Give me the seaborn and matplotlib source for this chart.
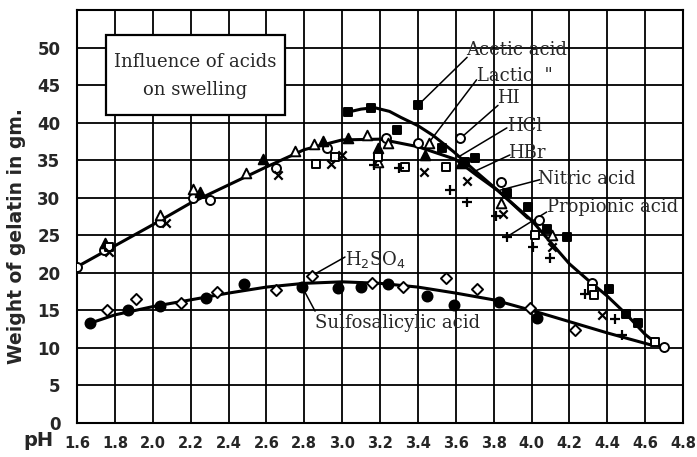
import numpy as np
import pandas as pd
import matplotlib
matplotlib.use("Agg")
import matplotlib.pyplot as plt
import matplotlib.patches as mpatches
import seaborn as sns

# ===== data (pH, weight of gelatin in gm) =====
hi_ph = [1.60, 1.74, 2.04, 2.21, 2.30, 2.65, 2.92, 3.23, 3.40, 3.62, 3.84, 4.04, 4.32, 4.70]
hi_w = [20.8, 23.0, 26.8, 30.0, 29.7, 34.0, 36.6, 37.9, 37.3, 37.9, 32.1, 27.0, 18.6, 10.1]

lactic_ph = [2.04, 2.21, 2.49, 2.75, 2.85, 3.13, 3.19, 3.24, 3.46, 3.84, 4.11]
lactic_w = [27.7, 31.2, 33.3, 36.2, 37.1, 38.3, 34.8, 37.3, 37.3, 29.3, 25.0]

hcl_ph = [1.75, 2.25, 2.58, 2.90, 3.03, 3.19, 3.44, 3.63]
hcl_w = [24.0, 30.8, 35.1, 37.5, 37.9, 36.6, 35.7, 34.6]

hbr_ph = [1.77, 2.86, 2.96, 3.19, 3.33, 3.55, 4.02, 4.32, 4.33, 4.65]
hbr_w = [23.4, 34.5, 35.4, 35.4, 34.1, 34.1, 25.0, 17.8, 17.0, 10.8]

nitric_ph = [1.77, 2.07, 2.66, 2.94, 3.00, 3.43, 3.66, 3.85, 4.11, 4.37]
nitric_w = [22.8, 26.6, 33.0, 34.5, 35.7, 33.4, 32.2, 27.8, 23.4, 14.4]

propionic_ph = [3.17, 3.30, 3.57, 3.66, 3.81, 3.87, 4.01, 4.10, 4.28, 4.44, 4.48]
propionic_w = [34.4, 34.0, 31.0, 29.4, 27.6, 24.8, 23.4, 22.0, 17.2, 13.8, 11.7]

acetic_ph = [3.03, 3.15, 3.40, 3.29, 3.53, 3.65, 3.70, 3.87, 3.98, 4.08, 4.19, 4.41, 4.50, 4.56]
acetic_w = [41.4, 41.9, 42.3, 39.0, 36.6, 34.8, 35.3, 30.6, 28.8, 25.8, 24.8, 17.8, 14.5, 13.3]

h2so4_ph = [1.76, 1.91, 2.15, 2.34, 2.65, 2.84, 3.16, 3.32, 3.55, 3.71, 3.99, 4.23]
h2so4_w = [15.0, 16.5, 16.0, 17.4, 17.7, 19.6, 18.6, 18.1, 19.3, 17.8, 15.3, 12.4]

sulfo_ph = [1.67, 1.87, 2.04, 2.28, 2.48, 2.79, 2.98, 3.10, 3.24, 3.45, 3.59, 3.83, 4.03]
sulfo_w = [13.3, 15.0, 15.6, 16.7, 18.5, 18.1, 18.0, 18.1, 18.5, 16.9, 15.7, 16.1, 14.0]

# hand drawn curves, traced point by point
main_curve_ph = [1.60, 1.80, 2.00, 2.20, 2.40, 2.60, 2.80, 3.00, 3.20, 3.40, 3.60, 3.71, 3.82,
                 4.00, 4.10, 4.20, 4.30, 4.40, 4.50, 4.60, 4.68]
main_curve_w = [20.8, 23.6, 26.4, 29.3, 31.7, 34.1, 36.4, 37.7, 37.8, 36.8, 35.1, 33.0, 31.0,
                27.0, 24.1, 21.2, 19.0, 16.9, 14.5, 11.8, 10.2]

acetic_curve_ph = [3.03, 3.10, 3.17, 3.25, 3.31, 3.40, 3.48, 3.59, 3.71, 3.83, 3.98]
acetic_curve_w = [41.4, 41.8, 42.0, 41.5, 40.7, 39.6, 38.3, 36.1, 33.4, 30.8, 27.3]

lower_curve_ph = [1.67, 1.80, 2.00, 2.20, 2.40, 2.60, 2.80, 3.00, 3.20, 3.40, 3.60, 3.80,
                  4.00, 4.20, 4.40, 4.63]
lower_curve_w = [13.3, 14.4, 15.5, 16.4, 17.3, 18.1, 18.6, 18.8, 18.6, 18.1, 17.3, 16.4,
                 15.0, 13.5, 12.0, 10.4]

x_ticks = [1.6, 1.8, 2.0, 2.2, 2.4, 2.6, 2.8, 3.0, 3.2, 3.4, 3.6, 3.8, 4.0, 4.2, 4.4, 4.6, 4.8]
y_ticks = [0, 5, 10, 15, 20, 25, 30, 35, 40, 45, 50]

# ===== figure =====
sns.set_theme(style="white")
plt.rcParams["font.family"] = ["DejaVu Sans"]

fig = plt.figure(figsize=(6.97, 4.57), dpi=100)
ax = fig.add_axes([77 / 697, 1 - 423 / 457, 606 / 697, 413 / 457])

# curves
for cx, cy in [(main_curve_ph, main_curve_w), (acetic_curve_ph, acetic_curve_w),
               (lower_curve_ph, lower_curve_w)]:
    sns.lineplot(x=cx, y=cy, ax=ax, color="black", lw=2.2, sort=False,
                 estimator=None, zorder=3)

# markers: (x, y, marker, filled, size)
groups = [
    (hi_ph, hi_w, "o", False, 42),
    (lactic_ph, lactic_w, "^", False, 48),
    (hcl_ph, hcl_w, "^", True, 48),
    (hbr_ph, hbr_w, "s", False, 32),
    (nitric_ph, nitric_w, "x", True, 36),
    (propionic_ph, propionic_w, "+", True, 50),
    (acetic_ph, acetic_w, "s", True, 38),
    (h2so4_ph, h2so4_w, "D", False, 32),
    (sulfo_ph, sulfo_w, "o", True, 52),
]
for gx, gy, mk, filled, sz in groups:
    if mk in ("x", "+"):
        sns.scatterplot(x=gx, y=gy, ax=ax, marker=mk, s=sz, color="black",
                        linewidth=1.6, zorder=4)
    else:
        sns.scatterplot(x=gx, y=gy, ax=ax, marker=mk, s=sz,
                        facecolor="black" if filled else "white",
                        edgecolor="black", linewidth=1.4, zorder=4)

ax.set_xlim(1.6, 4.8)
ax.set_ylim(0, 55)
ax.set_xticks(x_ticks)
ax.set_xticklabels([f"{v:.1f}" for v in x_ticks])
ax.set_yticks(y_ticks)
ax.set_yticks([55], minor=True)
ax.grid(True, which="both", color="black", lw=1.3)
ax.set_axisbelow(True)
ax.tick_params(axis="both", length=0)
ax.tick_params(axis="x", pad=9, labelsize=10.5)
ax.tick_params(axis="y", pad=12, labelsize=12)
for lab in ax.get_xticklabels() + ax.get_yticklabels():
    lab.set_fontweight("bold")
for sp in ax.spines.values():
    sp.set_color("black")
    sp.set_linewidth(1.5)
ax.set_xlabel("")
ax.set_ylabel("")

fig.text(17 / 697, 1 - 236 / 457, "Weight of gelatin in gm.", rotation=90,
         ha="center", va="center", fontsize=13.5, fontweight="bold")
fig.text(38 / 697, 1 - 441 / 457, "pH", ha="center", va="center",
         fontsize=14, fontweight="bold")

# title box
ax.add_patch(mpatches.Rectangle((1.753, 41.0), 0.945, 10.7, facecolor="white",
                                edgecolor="black", lw=1.6, zorder=5))
ax.text(2.226, 48.1, "Influence of acids", ha="center", va="center",
        family="DejaVu Serif", fontsize=13, zorder=6)
ax.text(2.226, 44.4, "on swelling", ha="center", va="center",
        family="DejaVu Serif", fontsize=13, zorder=6)

# labels with leader lines: text, text position, leader start, leader end
labels = [
    ("Acetic acid", (3.655, 49.7), (3.40, 42.3), (3.66, 48.7)),
    ('Lactic  "', (3.712, 46.2), (3.46, 37.4), (3.71, 45.7)),
    ("HI", (3.818, 43.3), (3.633, 38.1), (3.823, 42.3)),
    ("HCl", (3.87, 39.5), (3.612, 35.4), (3.87, 39.3)),
    ("HBr", (3.876, 36.0), (3.69, 33.4), (3.886, 35.7)),
    ("Nitric acid", (4.034, 32.5), (3.833, 31.0), (4.044, 32.4)),
    ("Propionic acid", (4.08, 28.8), (3.87, 24.8), (4.08, 28.1)),
    (r"H$_2$SO$_4$", (3.015, 21.8), (2.846, 19.7), (3.015, 22.1)),
    ("Sulfosalicylic acid", (2.857, 13.3), (2.80, 17.6), (2.857, 14.9)),
]
for txt, tpos, p0, p1 in labels:
    ax.plot([p0[0], p1[0]], [p0[1], p1[1]], color="black", lw=1.1, zorder=3.5)
    ax.text(tpos[0], tpos[1], txt, ha="left", va="center", family="DejaVu Serif",
            fontsize=13, zorder=6)

fig.savefig("out.png", dpi=100, facecolor="white")
